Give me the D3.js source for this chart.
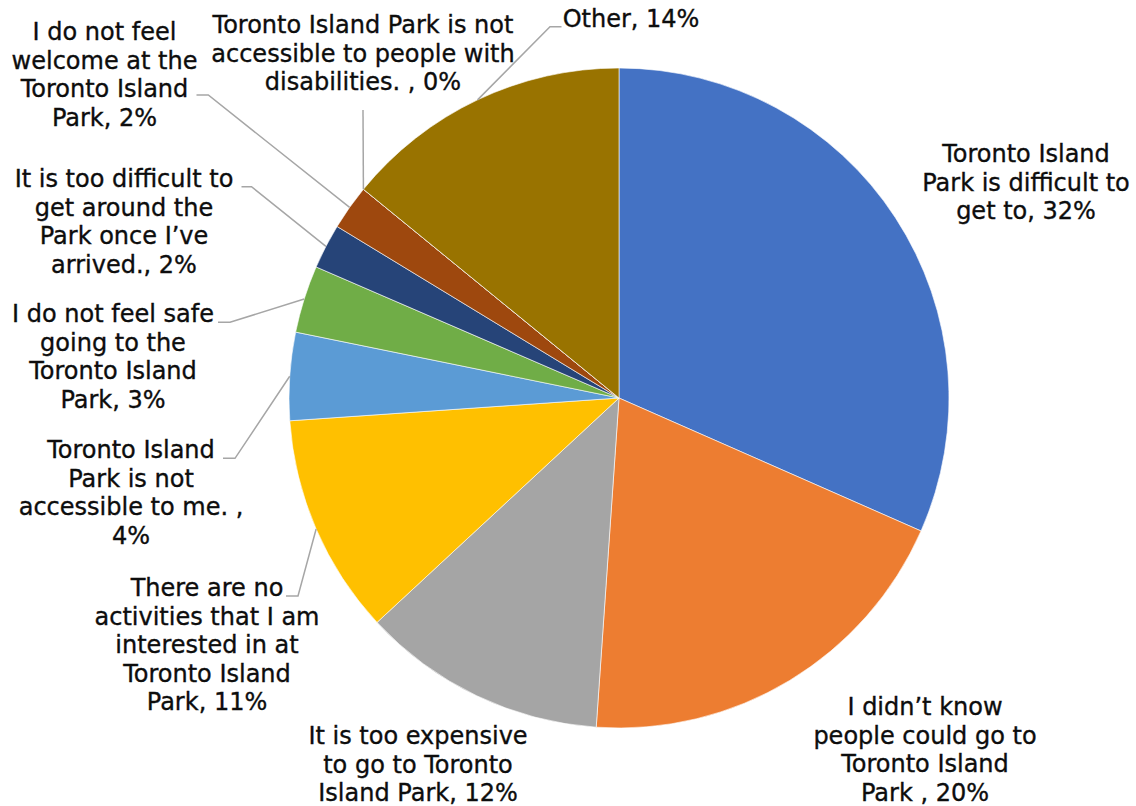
<!DOCTYPE html>
<html>
<head>
<meta charset="utf-8">
<script src="https://cdn.jsdelivr.net/npm/d3@7"></script>
<style>
  html, body { margin: 0; padding: 0; background: #fff; }
  svg { display: block; }
  .label {
    font-family: "DejaVu Sans", "Noto Sans", sans-serif;
    font-size: 24px;
    fill: #0d0d0d;
    stroke: #0d0d0d;
    stroke-width: 0.35px;
  }
</style>
</head>
<body>
<svg id="chart" width="1136" height="806"></svg>
<script>
// Reasons for not visiting Toronto Island Park (share of respondents, %)
const categories = [
  "Toronto Island Park is difficult to get to",
  "I didn\u2019t know people could go to Toronto Island Park ",
  "It is too expensive to go to Toronto Island Park",
  "There are no activities that I am interested in at Toronto Island Park",
  "Toronto Island Park is not accessible to me. ",
  "I do not feel safe going to the Toronto Island Park",
  "It is too difficult to get around the Park once I\u2019ve arrived.",
  "I do not feel welcome at the Toronto Island Park",
  "Toronto Island Park is not accessible to people with disabilities. ",
  "Other"
];
const shares = [31.6, 19.5, 12.0, 10.8, 4.3, 3.3, 2.2, 2.2, 0, 14.1];
const colors = [
  "#4472C4", "#ED7D31", "#A5A5A5", "#FFC000", "#5B9BD5",
  "#70AD47", "#264478", "#9E480E", "#636363", "#997300"
];

// Label placement: centre x, first baseline, words per line, and leader start/elbow
const labelLayout = [
  { x: 1026, y: 162, breaks: [2, 4, 3] },
  { x: 925,  y: 715, breaks: [3, 4, 2, 3] },
  { x: 418,  y: 744, breaks: [4, 4, 3] },
  { x: 207,  y: 596, breaks: [3, 4, 3, 2, 2], lead: [[286, 596], [298, 596]] },
  { x: 131,  y: 458, breaks: [2, 3, 4, 1],    lead: [[223, 458.3], [235, 458.3]] },
  { x: 113,  y: 322, breaks: [5, 3, 2, 2],    lead: [[218, 322.3], [230, 322.3]] },
  { x: 124,  y: 187, breaks: [5, 3, 3, 2],    lead: [[241.5, 186.7], [251.5, 186.7]] },
  { x: 104.5, y: 40, breaks: [4, 3, 2, 2],    lead: [[196.5, 95], [208.3, 95]] },
  { x: 363,  y: 33,  breaks: [5, 4, 3],       lead: [[363, 110], [363, 110]] },
  { x: 631,  y: 26.7, breaks: [2],            lead: [[561.5, 26.7], [550, 26.7]] }
];
const lineHeight = 28.6;

const cx = 619, cy = 398, radius = 330;

const svg = d3.select("#chart");
const g = svg.append("g").attr("transform", `translate(${cx},${cy})`);

const data = categories.map((c, i) => ({ name: c, value: shares[i], color: colors[i], layout: labelLayout[i] }));

const pie = d3.pie().value(d => d.value).sort(null);
const arcs = pie(data);
const arc = d3.arc().innerRadius(0).outerRadius(radius);

// Slices
g.selectAll("path.slice")
  .data(arcs)
  .join("path")
  .attr("class", "slice")
  .attr("d", arc)
  .attr("fill", d => d.data.color)
  .attr("stroke", "#ffffff")
  .attr("stroke-width", 0.6);

// Leader lines from label to the slice's outer mid point
const leaders = arcs.filter(d => d.data.layout.lead);
svg.selectAll("path.leader")
  .data(leaders)
  .join("path")
  .attr("class", "leader")
  .attr("fill", "none")
  .attr("stroke", "#A6A6A6")
  .attr("stroke-width", 1.5)
  .attr("d", d => {
    const mid = (d.startAngle + d.endAngle) / 2;
    const px = cx + radius * Math.sin(mid);
    const py = cy - radius * Math.cos(mid);
    const [a, b] = d.data.layout.lead;
    return d3.line()([a, b, [px, py]]);
  });

// Data labels: "Category, NN%" wrapped into lines
const pct = v => Math.round(v) + "%";
const labels = svg.selectAll("text.label")
  .data(arcs)
  .join("text")
  .attr("class", "label")
  .attr("text-anchor", "middle");

labels.each(function (d) {
  const L = d.data.layout;
  const words = (d.data.name + ", " + pct(d.data.value)).split(" ").filter(w => w.length);
  const lines = [];
  let k = 0;
  L.breaks.forEach(n => { lines.push(words.slice(k, k + n).join(" ")); k += n; });
  d3.select(this).selectAll("tspan")
    .data(lines)
    .join("tspan")
    .attr("x", L.x)
    .attr("y", (t, i) => L.y + i * lineHeight)
    .text(t => t);
});
</script>
</body>
</html>
